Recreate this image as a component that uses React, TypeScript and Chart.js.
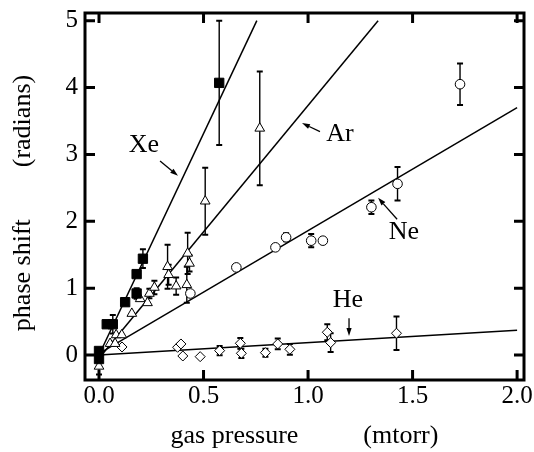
import React, { useEffect, useRef } from "react";
import { Chart, registerables } from "chart.js";

Chart.register(...registerables);

const FONT = '"Liberation Serif", "DejaVu Serif", serif';

// Axis ticks
const xTicks = [0, 0.5, 1.0, 1.5, 2.0];
const yTicks = [0, 1, 2, 3, 4, 5];

// Xe (filled squares)
const xePressure = [0, 0, 0.037, 0.066, 0.125, 0.18, 0.18, 0.21, 0.575];
const xePhase = [0.06, -0.06, 0.46, 0.46, 0.79, 0.92, 1.21, 1.44, 4.07];
const xeErr = [0, 0, 0, 0.14, 0, 0.08, 0, 0.14, 0.93];

// Ar (open triangles)
const arPressure = [0, 0.053, 0.077, 0.082, 0.109, 0.157, 0.197, 0.232, 0.241, 0.265, 0.328, 0.333, 0.369, 0.42, 0.424, 0.433, 0.508, 0.769];
const arPhase = [-0.17, 0.17, 0.17, 0.3, 0.3, 0.62, 0.84, 0.78, 0.92, 1.01, 1.32, 1.2, 1.03, 1.05, 1.52, 1.37, 2.3, 3.39];
const arErr = [0.12, 0, 0, 0, 0, 0, 0, 0, 0.07, 0.1, 0.33, 0.15, 0.13, 0.27, 0.31, 0.12, 0.5, 0.85];

// Ne (open circles)
const nePressure = [0.437, 0.657, 0.844, 0.895, 1.015, 1.071, 1.303, 1.428, 1.727];
const nePhase = [0.92, 1.31, 1.61, 1.76, 1.71, 1.71, 2.21, 2.56, 4.05];
const neErr = [0, 0, 0, 0.06, 0.1, 0, 0.1, 0.25, 0.31];

// He (open diamonds)
const hePressure = [0.11, 0.376, 0.392, 0.401, 0.484, 0.577, 0.676, 0.681, 0.796, 0.855, 0.913, 1.092, 1.108, 1.423];
const hePhase = [0.12, 0.115, 0.165, -0.015, -0.025, 0.065, 0.175, 0.025, 0.035, 0.165, 0.085, 0.34, 0.185, 0.325];
const heErr = [0, 0, 0, 0, 0, 0.07, 0.08, 0.07, 0.06, 0.08, 0.08, 0.12, 0.14, 0.25];

// Linear fits (end points)
const xeFitX = [0, 0.755];
const xeFitY = [0, 5.0];
const arFitX = [0, 1.335];
const arFitY = [-0.05, 5.0];
const neFitX = [0, 2.0];
const neFitY = [0.02, 3.7];
const heFitX = [0, 2.0];
const heFitY = [0, 0.37];

// Gas labels with arrows (data coordinates)
const gasLabels = [
  { text: "Xe", x: 0.215, y: 3.14, tail: [0.292, 2.9], head: [0.378, 2.68] },
  { text: "Ar", x: 1.153, y: 3.31, tail: [1.057, 3.34], head: [0.971, 3.47] },
  { text: "Ne", x: 1.459, y: 1.84, tail: [1.426, 2.03], head: [1.335, 2.35] },
  { text: "He", x: 1.191, y: 0.82, tail: [1.196, 0.55], head: [1.196, 0.285] },
];

const pts = (xs: number[], ys: number[]) => xs.map((x, i) => ({ x, y: ys[i] }));

const errorBarPlugin = {
  id: "errorBars",
  beforeDatasetsDraw(chart: any) {
    const { ctx } = chart;
    const xs = chart.scales.x;
    const ys = chart.scales.y;
    ctx.save();
    ctx.strokeStyle = "#000";
    chart.data.datasets.forEach((ds: any) => {
      const errs = ds.errors as number[] | undefined;
      if (!errs) return;
      ds.data.forEach((p: any, i: number) => {
        const e = errs[i];
        if (!e) return;
        const px = xs.getPixelForValue(p.x);
        const y1 = ys.getPixelForValue(p.y + e);
        const y2 = ys.getPixelForValue(p.y - e);
        ctx.lineWidth = 1.4;
        ctx.beginPath();
        ctx.moveTo(px, y1);
        ctx.lineTo(px, y2);
        ctx.stroke();
        ctx.lineWidth = 2;
        ctx.beginPath();
        ctx.moveTo(px - 3, y1);
        ctx.lineTo(px + 3, y1);
        ctx.moveTo(px - 3, y2);
        ctx.lineTo(px + 3, y2);
        ctx.stroke();
      });
    });
    ctx.restore();
  },
};

const framePlugin = {
  id: "frame",
  afterDraw(chart: any) {
    const { ctx, chartArea: a } = chart;
    const xs = chart.scales.x;
    const ys = chart.scales.y;
    const tl = 10;
    ctx.save();
    ctx.strokeStyle = "#000";
    ctx.lineWidth = 3;
    ctx.strokeRect(a.left, a.top, a.right - a.left, a.bottom - a.top);
    ctx.beginPath();
    xTicks.forEach((v) => {
      const px = xs.getPixelForValue(v);
      ctx.moveTo(px, a.bottom);
      ctx.lineTo(px, a.bottom - tl);
      ctx.moveTo(px, a.top);
      ctx.lineTo(px, a.top + tl);
    });
    yTicks.forEach((v) => {
      const py = ys.getPixelForValue(v);
      ctx.moveTo(a.left, py);
      ctx.lineTo(a.left + tl, py);
      ctx.moveTo(a.right, py);
      ctx.lineTo(a.right - tl, py);
    });
    ctx.stroke();
    ctx.restore();
  },
};

const labelPlugin = {
  id: "gasLabels",
  afterDatasetsDraw(chart: any) {
    const { ctx } = chart;
    const xs = chart.scales.x;
    const ys = chart.scales.y;
    ctx.save();
    ctx.fillStyle = "#000";
    ctx.strokeStyle = "#000";
    ctx.font = `26px ${FONT}`;
    ctx.textAlign = "center";
    ctx.textBaseline = "middle";
    gasLabels.forEach((l) => {
      ctx.fillText(l.text, xs.getPixelForValue(l.x), ys.getPixelForValue(l.y));
      const tx = xs.getPixelForValue(l.tail[0]);
      const ty = ys.getPixelForValue(l.tail[1]);
      const hx = xs.getPixelForValue(l.head[0]);
      const hy = ys.getPixelForValue(l.head[1]);
      const ang = Math.atan2(hy - ty, hx - tx);
      const len = 8;
      const hw = 2.6;
      const bx = hx - Math.cos(ang) * len;
      const by = hy - Math.sin(ang) * len;
      ctx.lineWidth = 1.3;
      ctx.beginPath();
      ctx.moveTo(tx, ty);
      ctx.lineTo(bx, by);
      ctx.stroke();
      ctx.beginPath();
      ctx.moveTo(hx, hy);
      ctx.lineTo(bx - Math.sin(ang) * hw, by + Math.cos(ang) * hw);
      ctx.lineTo(bx + Math.sin(ang) * hw, by - Math.cos(ang) * hw);
      ctx.closePath();
      ctx.fill();
    });
    ctx.restore();
  },
};

const fitLine = (xs: number[], ys: number[]) => ({
  type: "scatter" as const,
  data: pts(xs, ys),
  showLine: true,
  borderColor: "#000",
  borderWidth: 1.5,
  pointRadius: 0,
  fill: false,
  order: 2,
});

export default function App() {
  const ref = useRef<HTMLCanvasElement>(null);

  useEffect(() => {
    if (!ref.current) return;
    const chart = new Chart(ref.current, {
      type: "scatter",
      data: {
        datasets: [
          {
            label: "Xe",
            data: pts(xePressure, xePhase),
            errors: xeErr,
            pointStyle: "rect",
            pointRadius: 6.6,
            backgroundColor: "#000",
            borderColor: "#000",
            borderWidth: 1,
            order: 0,
          } as any,
          {
            label: "Ar",
            data: pts(arPressure, arPhase),
            errors: arErr,
            pointStyle: "triangle",
            pointRadius: 5.6,
            backgroundColor: "#fff",
            borderColor: "#000",
            borderWidth: 1,
            order: 1,
          } as any,
          {
            label: "Ne",
            data: pts(nePressure, nePhase),
            errors: neErr,
            pointStyle: "circle",
            pointRadius: 4.8,
            backgroundColor: "#fff",
            borderColor: "#000",
            borderWidth: 1,
            order: 1,
          } as any,
          {
            label: "He",
            data: pts(hePressure, hePhase),
            errors: heErr,
            pointStyle: "rectRot",
            pointRadius: 5,
            backgroundColor: "#fff",
            borderColor: "#000",
            borderWidth: 1,
            order: 1,
          } as any,
          fitLine(xeFitX, xeFitY),
          fitLine(arFitX, arFitY),
          fitLine(neFitX, neFitY),
          fitLine(heFitX, heFitY),
        ],
      },
      options: {
        animation: false,
        responsive: false,
        maintainAspectRatio: false,
        layout: { padding: { top: 13, right: 10, left: 0, bottom: 0 } },
        plugins: {
          legend: { display: false },
          tooltip: { enabled: false },
        },
        scales: {
          x: {
            type: "linear",
            min: -0.067,
            max: 2.033,
            afterBuildTicks: (s: any) => {
              s.ticks = xTicks.map((v) => ({ value: v }));
            },
            afterFit: (s: any) => {
              s.height = 72;
              s.paddingLeft = 0;
              s.paddingRight = 0;
            },
            grid: { display: false, drawTicks: false },
            border: { display: false },
            ticks: {
              color: "#000",
              padding: 1,
              autoSkip: false,
              maxRotation: 0,
              font: { family: FONT, size: 25 },
              callback: (v: any) => Number(v).toFixed(1),
            },
            title: {
              display: true,
              text: "gas pressure          (mtorr)",
              color: "#000",
              font: { family: FONT, size: 26 },
              padding: { top: 0, bottom: 0 },
            },
          },
          y: {
            type: "linear",
            min: -0.374,
            max: 5.115,
            afterBuildTicks: (s: any) => {
              s.ticks = yTicks.map((v) => ({ value: v }));
            },
            afterFit: (s: any) => {
              s.width = 85;
              s.paddingTop = 0;
              s.paddingBottom = 0;
            },
            grid: { display: false, drawTicks: false },
            border: { display: false },
            ticks: {
              color: "#000",
              padding: 7,
              autoSkip: false,
              font: { family: FONT, size: 25 },
              callback: (v: any) => String(Math.round(Number(v))),
            },
            title: {
              display: true,
              text: "phase shift        (radians)  ",
              color: "#000",
              font: { family: FONT, size: 26 },
              padding: { top: 8, bottom: 0 },
            },
          },
        },
      },
      plugins: [errorBarPlugin, labelPlugin, framePlugin],
    });
    return () => chart.destroy();
  }, []);

  return (
    <div style={{ position: "absolute", left: 0, top: 0, width: 534, height: 452, background: "#fff" }}>
      <canvas ref={ref} width={534} height={452} style={{ display: "block" }} />
    </div>
  );
}
